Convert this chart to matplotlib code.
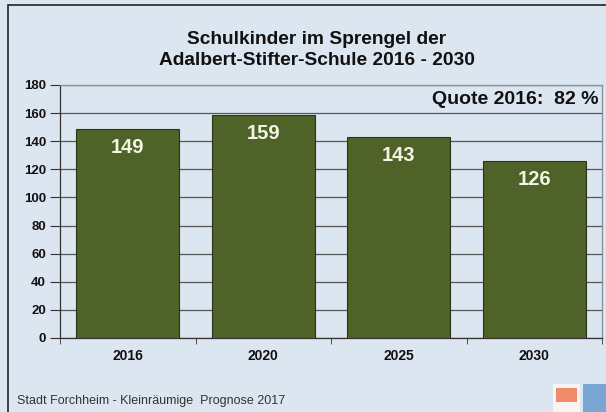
import matplotlib
matplotlib.use("Agg")
import matplotlib.pyplot as plt
from matplotlib.patches import Rectangle
import numpy as np

years = ["2016", "2020", "2025", "2030"]
values = [149, 159, 143, 126]
yticks = [0, 20, 40, 60, 80, 100, 120, 140, 160, 180]
title = "Schulkinder im Sprengel der\nAdalbert-Stifter-Schule 2016 - 2030"
quote = "Quote 2016:  82 %"
footer = "Stadt Forchheim - Kleinräumige  Prognose 2017"

plt.rcParams['font.family'] = ['Liberation Sans', 'DejaVu Sans']
bg = "#dce6f0"
W, H = 606, 412
fig = plt.figure(figsize=(W / 100, H / 100), dpi=100, facecolor=bg)

def fr(x0, y0, w, h):
    """pixel box (top-left origin) -> figure fraction rect args"""
    return (x0 / W, 1 - (y0 + h) / H), w / W, h / H

# outer frame
fig.patches.append(Rectangle((8 / W, -0.05), 1.2, 1 - 5 / H + 0.05, transform=fig.transFigure,
                             fill=False, edgecolor="#222222", linewidth=1.2))

ax = fig.add_axes([60 / W, 1 - 338 / H, 542 / W, 253 / H])
ax.set_facecolor(bg)
x = np.arange(len(years))
ax.bar(x, values, width=0.76, color="#4f6228", edgecolor="#2b3514", linewidth=0.8, zorder=3)
ax.set_xlim(-0.5, len(years) - 0.5)
ax.set_ylim(0, 180)
ax.set_yticks(yticks)
ax.set_yticklabels([str(t) for t in yticks], fontsize=9.5, fontweight="bold", color="#111111")
ax.set_xticks(x)
ax.set_xticklabels(years, fontsize=10, fontweight="bold", color="#111111")
ax.tick_params(axis="x", length=0, pad=8)
ax.set_xticks(np.arange(-0.5, len(years)), minor=True)
ax.tick_params(axis="x", which="minor", length=4, color="#333333", direction="out")
ax.tick_params(axis="y", length=7, color="#333333", direction="out", pad=3)
ax.yaxis.grid(True, color="#555555", linewidth=0.9, zorder=0)
ax.set_axisbelow(True)
for s in ["left", "bottom"]:
    ax.spines[s].set_color("#333333")
    ax.spines[s].set_linewidth(0.9)
for s in ["top", "right"]:
    ax.spines[s].set_color("#8a9099")
    ax.spines[s].set_linewidth(0.9)

for xi, v in zip(x, values):
    ax.text(xi, v - 13.5, str(v), ha="center", va="center", fontsize=14.5,
            fontweight="bold", color="#f4f4e6", zorder=4)

ax.text(0.993, 170, quote, transform=ax.get_yaxis_transform(), ha="right", va="center",
        fontsize=14, fontweight="bold", color="#111111", zorder=4)

fig.text(317 / W, 1 - 50 / H, title, ha="center", va="center", fontsize=13.8,
         fontweight="bold", color="#111111", linespacing=1.3)
fig.text(17 / W, 1 - 401 / H, footer, ha="left", va="center", fontsize=9, color="#333333")

# logos (approximate)
fig.patches.append(Rectangle(*fr(553, 384, 27, 28), transform=fig.transFigure,
                             facecolor="#f7f4f2", edgecolor="none"))
fig.patches.append(Rectangle(*fr(556, 388, 21, 14), transform=fig.transFigure,
                             facecolor="#ef8a6a", edgecolor="none"))
fig.patches.append(Rectangle(*fr(583, 384, 24, 28), transform=fig.transFigure,
                             facecolor="#7aa6d4", edgecolor="none"))

fig.savefig("out.png", dpi=100, facecolor=bg)
